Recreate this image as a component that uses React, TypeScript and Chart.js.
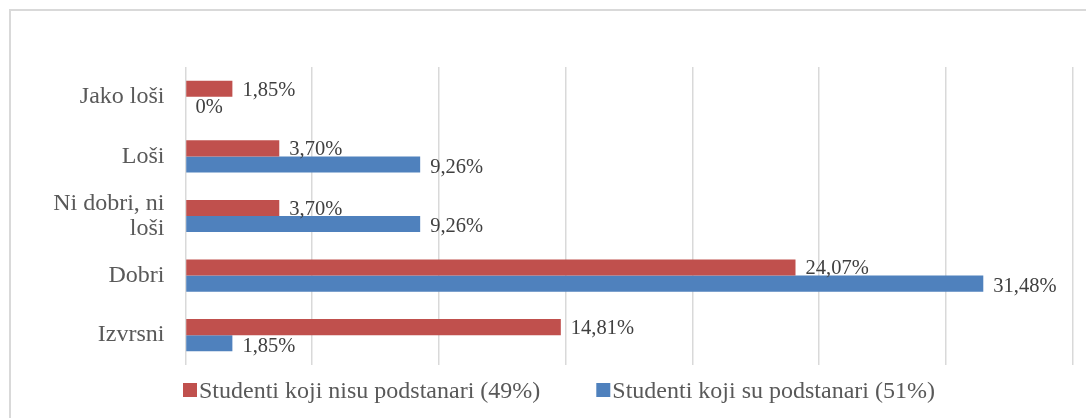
import React, { useEffect, useRef } from "react";
import { Chart, registerables } from "chart.js";

Chart.register(...registerables);

const categories = ["Jako loši", "Loši", "Ni dobri, ni loši", "Dobri", "Izvrsni"];
const seriesNames = [
  "Studenti koji nisu podstanari (49%)",
  "Studenti koji su podstanari (51%)",
];
const notTenants = [1.85, 3.7, 3.7, 24.07, 14.81];
const tenants = [0, 9.26, 9.26, 31.48, 1.85];
const xTicks = [0, 5, 10, 15, 20, 25, 30, 35];

const RED = "#C0504D";
const BLUE = "#4F81BD";
const FONT = '"Liberation Serif", "Times New Roman", serif';

function wrap(label: string): string | string[] {
  if (label.length <= 12) return label;
  const i = label.lastIndexOf(" ");
  return [label.slice(0, i), label.slice(i + 1)];
}

function fmt(v: number): string {
  if (v === 0) return "0%";
  return v.toFixed(2).replace(".", ",") + "%";
}

const valueLabels = {
  id: "valueLabels",
  afterDatasetsDraw(chart: any) {
    const ctx = chart.ctx;
    ctx.save();
    ctx.font = `20.5px ${FONT}`;
    ctx.fillStyle = "#404040";
    ctx.textAlign = "left";
    ctx.textBaseline = "alphabetic";
    chart.data.datasets.forEach((ds: any, i: number) => {
      const meta = chart.getDatasetMeta(i);
      meta.data.forEach((bar: any, j: number) => {
        const v = ds.data[j];
        const y = bar.y + 6.8 + (i === 1 ? 1.5 : 0);
        ctx.fillText(fmt(v), bar.x + 10, y);
      });
    });
    ctx.restore();
  },
};

const bottomLegend = {
  id: "bottomLegend",
  afterDraw(chart: any) {
    const ctx = chart.ctx;
    ctx.save();
    ctx.font = `24px ${FONT}`;
    ctx.textBaseline = "alphabetic";
    ctx.textAlign = "left";
    let x = 183;
    const baseline = 398;
    chart.data.datasets.forEach((ds: any) => {
      ctx.fillStyle = ds.backgroundColor;
      ctx.fillRect(x, 383, 14, 14);
      ctx.fillStyle = "#595959";
      ctx.fillText(ds.label, x + 16, baseline);
      x += 16 + ctx.measureText(ds.label).width + 56;
    });
    ctx.restore();
  },
};

export default function App() {
  const ref = useRef<HTMLCanvasElement | null>(null);

  useEffect(() => {
    if (!ref.current) return;
    const chart = new Chart(ref.current, {
      type: "bar",
      data: {
        labels: categories.map(wrap),
        datasets: [
          {
            label: seriesNames[0],
            data: notTenants,
            backgroundColor: RED,
            borderWidth: 0,
            categoryPercentage: 0.54,
            barPercentage: 1,
          },
          {
            label: seriesNames[1],
            data: tenants,
            backgroundColor: BLUE,
            borderWidth: 0,
            categoryPercentage: 0.54,
            barPercentage: 1,
          },
        ],
      },
      options: {
        indexAxis: "y",
        animation: false,
        responsive: false,
        layout: { padding: { top: 67, bottom: 53, right: 13.5, left: 0 } },
        plugins: {
          legend: { display: false },
          tooltip: { enabled: false },
        },
        scales: {
          x: {
            min: xTicks[0],
            max: xTicks[xTicks.length - 1],
            afterBuildTicks: (scale: any) => {
              scale.ticks = xTicks.map((v) => ({ value: v }));
            },
            ticks: { display: false },
            grid: { color: "#d9d9d9", lineWidth: 1.5, drawTicks: false },
            border: { display: false },
          },
          y: {
            afterFit: (scale: any) => {
              scale.width = 185.5;
            },
            ticks: {
              color: "#595959",
              padding: 21,
              font: { family: FONT, size: 24, lineHeight: 1.05 },
            },
            grid: { display: false, drawTicks: false },
            border: { display: false },
          },
        },
      },
      plugins: [valueLabels, bottomLegend],
    } as any);
    return () => chart.destroy();
  }, []);

  return (
    <div
      style={{
        position: "fixed",
        left: 0,
        top: 0,
        width: 1086,
        height: 418,
        overflow: "hidden",
        background: "#fff",
      }}
    >
      <div
        style={{
          position: "absolute",
          left: 9,
          top: 9,
          width: 1100,
          height: 430,
          border: "2px solid #d9d9d9",
        }}
      />
      <canvas
        ref={ref}
        width={1086}
        height={418}
        style={{ position: "absolute", left: 0, top: 0, width: 1086, height: 418 }}
      />
    </div>
  );
}
